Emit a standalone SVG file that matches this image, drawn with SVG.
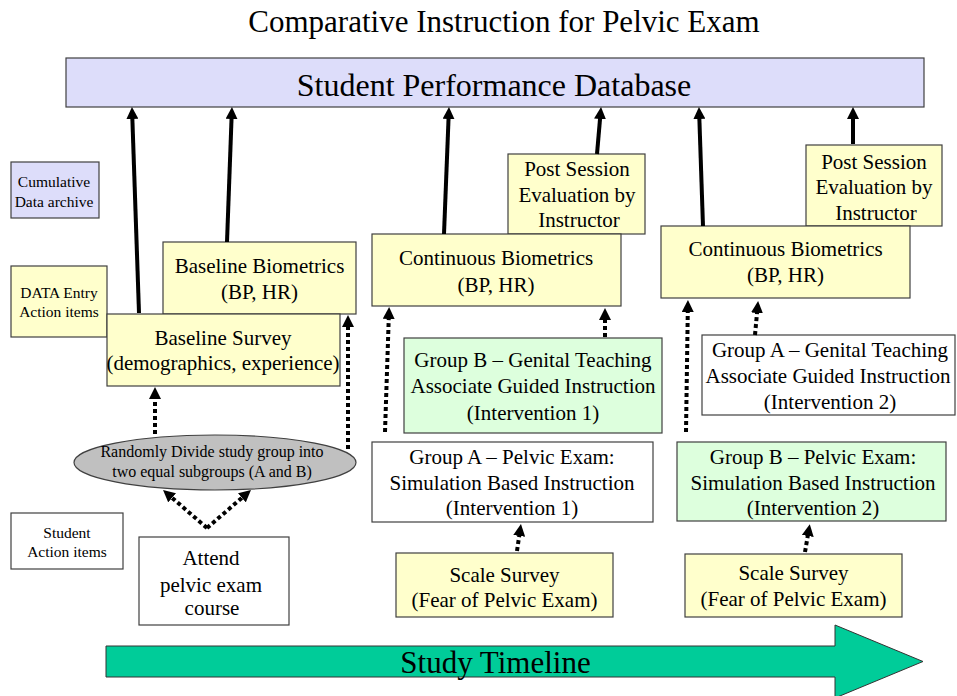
<svg xmlns="http://www.w3.org/2000/svg" width="957" height="696" viewBox="0 0 957 696">
<defs>
<style>
text{font-family:"Liberation Serif","Times New Roman",serif;fill:#000;text-anchor:middle}
.t21{font-size:21px}
.t16{font-size:15.5px}
.box{stroke:#404040;stroke-width:1.2}
.yel{fill:#FFFFCC}
.lav{fill:#DDDDFA}
.grn{fill:#DDFFDD}
.wht{fill:#FFFFFF}
.solid{stroke:#000;stroke-width:4;fill:none;marker-end:url(#ah)}
.dot{stroke:#000;stroke-width:4;fill:none;stroke-dasharray:4 3;marker-end:url(#ah)}
</style>
<marker id="ah" markerUnits="userSpaceOnUse" markerWidth="12" markerHeight="12" refX="2" refY="6" orient="auto">
<path d="M0,0 L12,6 L0,12 z" fill="#000"/>
</marker>
</defs>
<rect width="957" height="696" fill="#FFFFFF"/>

<text x="504" y="32" style="font-size:31px">Comparative Instruction for Pelvic Exam</text>

<g id="database">
<rect class="box lav" x="66" y="58" width="858" height="49"/>
<text x="494" y="96" style="font-size:32px">Student Performance Database</text>
</g>

<g id="legend-archive">
<rect class="box lav" x="11" y="162" width="88" height="56"/>
<text class="t16" x="54" y="187">Cumulative</text>
<text class="t16" x="54" y="206.5">Data archive</text>
</g>

<g id="legend-data-entry">
<rect class="box yel" x="11" y="266" width="96" height="71"/>
<text class="t16" x="59" y="298">DATA Entry</text>
<text class="t16" x="59" y="316.5">Action items</text>
</g>

<g id="legend-student">
<rect class="box wht" x="11" y="513" width="112" height="56"/>
<text class="t16" x="67" y="538">Student</text>
<text class="t16" x="67" y="556.5">Action items</text>
</g>

<g id="baseline-biometrics">
<rect class="box yel" x="163" y="242" width="193" height="72"/>
<text class="t21" x="259.5" y="272.5">Baseline Biometrics</text>
<text class="t21" x="259.5" y="299">(BP, HR)</text>
</g>

<g id="baseline-survey">
<rect class="box yel" x="107" y="314" width="233" height="72"/>
<text class="t21" x="223" y="345">Baseline Survey</text>
<text class="t21" x="223" y="370">(demographics, experience)</text>
</g>

<g id="randomly-divide">
<ellipse class="box" cx="215" cy="462.5" rx="141" ry="27.5" fill="#C0C0C0"/>
<text class="t16" x="212" y="456.5" style="font-size:16px">Randomly Divide study group into</text>
<text class="t16" x="212" y="476.5" style="font-size:16px">two equal subgroups (A and B)</text>
</g>

<g id="attend-course">
<rect class="box wht" x="139" y="537" width="150" height="88"/>
<text class="t21" x="211" y="565">Attend</text>
<text class="t21" x="211" y="591.5">pelvic exam</text>
<text class="t21" x="212" y="615">course</text>
</g>

<g id="post-session-1">
<rect class="box yel" x="508" y="154" width="137" height="80"/>
<text class="t21" x="577" y="175.5">Post Session</text>
<text class="t21" x="577" y="201.5">Evaluation by</text>
<text class="t21" x="579" y="227">Instructor</text>
</g>

<g id="continuous-biometrics-1">
<rect class="box yel" x="372" y="234" width="249" height="72"/>
<text class="t21" x="496" y="265">Continuous Biometrics</text>
<text class="t21" x="496" y="291.5">(BP, HR)</text>
</g>

<g id="group-b-gta-1">
<rect class="box grn" x="404" y="338" width="258" height="95"/>
<text class="t21" x="533" y="366.5">Group B – Genital Teaching</text>
<text class="t21" x="533" y="393">Associate Guided Instruction</text>
<text class="t21" x="533" y="419.5">(Intervention 1)</text>
</g>

<g id="group-a-sim-1">
<rect class="box wht" x="372" y="442" width="281" height="80"/>
<text class="t21" x="512" y="463.5">Group A – Pelvic Exam:</text>
<text class="t21" x="512" y="489.5">Simulation Based Instruction</text>
<text class="t21" x="512" y="515">(Intervention 1)</text>
</g>

<g id="scale-survey-1">
<rect class="box yel" x="396" y="553" width="217" height="64"/>
<text class="t21" x="504.5" y="581.5">Scale Survey</text>
<text class="t21" x="504.5" y="606.5">(Fear of Pelvic Exam)</text>
</g>

<g id="post-session-2">
<rect class="box yel" x="806" y="145" width="136" height="81"/>
<text class="t21" x="874" y="168.5">Post Session</text>
<text class="t21" x="874" y="194">Evaluation by</text>
<text class="t21" x="876" y="219.5">Instructor</text>
</g>

<g id="continuous-biometrics-2">
<rect class="box yel" x="661" y="226" width="249" height="72"/>
<text class="t21" x="785.5" y="255.5">Continuous Biometrics</text>
<text class="t21" x="785.5" y="282">(BP, HR)</text>
</g>

<g id="group-a-gta-2">
<rect class="box wht" x="702" y="335" width="253" height="80"/>
<text class="t21" x="830" y="356.5">Group A – Genital Teaching</text>
<text class="t21" x="828" y="382.5">Associate Guided Instruction</text>
<text class="t21" x="830" y="408.5">(Intervention 2)</text>
</g>

<g id="group-b-sim-2">
<rect class="box grn" x="677" y="442" width="269" height="79"/>
<text class="t21" x="813" y="464">Group B – Pelvic Exam:</text>
<text class="t21" x="813" y="489.5">Simulation Based Instruction</text>
<text class="t21" x="813" y="515">(Intervention 2)</text>
</g>

<g id="scale-survey-2">
<rect class="box yel" x="685" y="554" width="217" height="63"/>
<text class="t21" x="793.5" y="580">Scale Survey</text>
<text class="t21" x="793.5" y="605.5">(Fear of Pelvic Exam)</text>
</g>

<g id="timeline">
<polygon points="106,646 835,646 835,625 923,661.5 835,698 835,677 106,677" fill="#00CC99" stroke="#333" stroke-width="1"/>
<text x="495.5" y="673" style="font-size:31px">Study Timeline</text>
</g>

<g id="connectors">
<line class="solid" x1="139" y1="313" x2="132.3" y2="117"/>
<line class="solid" x1="227" y1="242" x2="231.6" y2="117"/>
<line class="solid" x1="444" y1="234" x2="448.6" y2="117"/>
<line class="solid" x1="597" y1="154" x2="600.2" y2="117"/>
<line class="solid" x1="703" y1="226" x2="699.3" y2="117"/>
<line class="solid" x1="853" y1="144" x2="853" y2="117"/>

<line class="dot" x1="155" y1="434" x2="155" y2="397"/>
<line class="dot" x1="348" y1="449" x2="348" y2="325"/>
<line class="dot" x1="207" y1="528" x2="170.6" y2="496.5"/>
<line class="dot" x1="207" y1="528" x2="243.4" y2="496.5"/>
<line class="dot" x1="385" y1="432" x2="388.8" y2="317"/>
<line class="dot" x1="605" y1="337" x2="605" y2="318"/>
<line class="dot" x1="686" y1="432" x2="687.8" y2="310"/>
<line class="dot" x1="755" y1="335" x2="757.2" y2="311"/>
<line class="dot" x1="517" y1="551" x2="519.5" y2="534"/>
<line class="dot" x1="805" y1="552" x2="808.1" y2="534"/>
</g>
</svg>
